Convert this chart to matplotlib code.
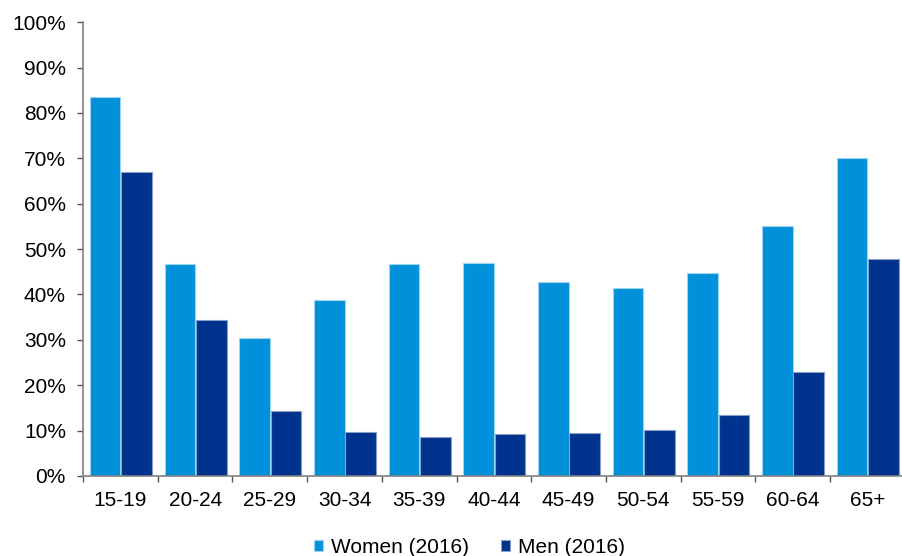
import numpy as np
import matplotlib
matplotlib.use("Agg")
import matplotlib.pyplot as plt
from matplotlib.ticker import PercentFormatter, FixedLocator

plt.rcParams["font.family"] = ["Liberation Sans", "DejaVu Sans"]

age_groups = ["15-19", "20-24", "25-29", "30-34", "35-39", "40-44",
              "45-49", "50-54", "55-59", "60-64", "65+"]
women_2016 = [83.5, 46.8, 30.4, 38.7, 46.8, 47.0, 42.7, 41.4, 44.7, 55.1, 70.0]
men_2016 = [66.9, 34.3, 14.3, 9.6, 8.5, 9.2, 9.5, 10.2, 13.5, 22.9, 47.8]

women_color = "#0091DA"
men_color = "#00338D"

fig = plt.figure(figsize=(9.03, 5.56), dpi=100)
ax = fig.add_axes([0.092, 0.144, 0.91, 0.816])

x = np.arange(len(age_groups))
w = 0.41
ax.bar(x - 0.205, women_2016, w, color=women_color, edgecolor="#9fd3f0",
       linewidth=0.8, label="Women (2016)")
ax.bar(x + 0.215, men_2016, w, color=men_color, edgecolor="#8a9cc8",
       linewidth=0.8, label="Men (2016)")

ax.set_xlim(-0.5, len(age_groups) - 0.5)
ax.set_ylim(0, 100)
ax.set_yticks(np.arange(0, 101, 10))
ax.yaxis.set_major_formatter(PercentFormatter(decimals=0))

ax.set_xticks(x)
ax.set_xticklabels(age_groups)
ax.xaxis.set_minor_locator(FixedLocator(np.arange(-0.5, len(age_groups), 1.0)))
ax.tick_params(axis="x", which="major", length=0, pad=11, labelsize=15)
ax.tick_params(axis="x", which="minor", length=4.3, color="#555555", width=1)
ax.tick_params(axis="y", length=4.3, color="#555555", width=1, labelsize=15, pad=8)

for s in ["top", "right"]:
    ax.spines[s].set_visible(False)
for s in ["left", "bottom"]:
    ax.spines[s].set_color("#808080")
    ax.spines[s].set_linewidth(1.2)

fig.legend(loc="lower center", bbox_to_anchor=(0.52, -0.035), ncol=2,
           frameon=False, fontsize=15, handlelength=0.45, handleheight=0.45,
           handletextpad=0.4, columnspacing=1.5)

fig.savefig("out.png", dpi=100)
